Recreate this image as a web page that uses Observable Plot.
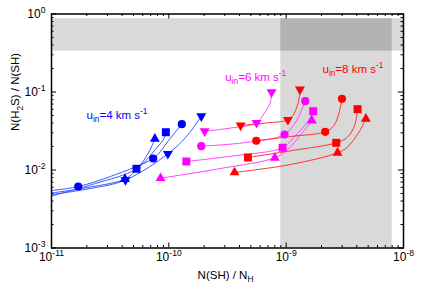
<!DOCTYPE html>
<html>
<head>
<meta charset="utf-8">
<script src="https://cdn.jsdelivr.net/npm/d3@7"></script>
<script src="https://cdn.jsdelivr.net/npm/@observablehq/plot@0.6"></script>
<style>
  html, body { margin: 0; padding: 0; background: white; }
</style>
</head>
<body>
<script>
// ---- axis ticks ----
const xTicks = [1e-11, 1e-10, 1e-9, 1e-8];
const xTickLabels = ["10^{-11}", "10^{-10}", "10^{-9}", "10^{-8}"];
const yTicks = [1e-3, 1e-2, 1e-1, 1];
const yTickLabels = ["10^{-3}", "10^{-2}", "10^{-1}", "10^{0}"];
const xTitle = "N(SH) / N_{H}";
const yTitle = "N(H_{2}S) / N(SH)";

// ---- shaded regions ----
const hBand = [{x1: 1e-11, x2: 1e-8, y1: 0.334, y2: 0.868}];
const vBand = [{x1: 9e-10, x2: 8e-9, y1: 1e-3, y2: 0.868}];
const overlapBand = [{x1: 9e-10, x2: 8e-9, y1: 0.334, y2: 0.868}];

// ---- trajectories [N(SH)/NH, N(H2S)/N(SH)] ----
// u_in = 4 km/s (blue)
const blueCircle = [[1e-11,5.46e-3],[1.69e-11,6.14e-3],[3.18e-11,8.26e-3],[7.36e-11,1.404e-2],[8.50e-11,1.73e-2],[9.94e-11,2.39e-2],[1.29e-10,3.87e-2]];
const blueDown   = [[1e-11,4.85e-3],[2.15e-11,5.79e-3],[4.27e-11,7.44e-3],[9.81e-11,1.61e-2],[1.39e-10,2.61e-2],[1.89e-10,4.89e-2]];
const blueUp     = [[1e-11,5.07e-3],[2.15e-11,6.05e-3],[4.23e-11,7.66e-3],[5.36e-11,1.03e-2],[6.75e-11,1.69e-2],[7.60e-11,2.51e-2]];
const blueSquare = [[1e-11,4.64e-3],[2.37e-11,6.71e-3],[5.30e-11,1.036e-2],[7.96e-11,1.96e-2],[9.01e-11,2.46e-2],[9.43e-11,3.05e-2]];
// u_in = 6 km/s (magenta)
const magDown   = [[2.02e-10,3.14e-2],[3.36e-10,3.45e-2],[5.59e-10,4.03e-2],[6.45e-10,5.25e-2],[7.26e-10,7.06e-2],[7.51e-10,9.94e-2]];
const magCircle = [[1.89e-10,2.02e-2],[4.51e-10,2.25e-2],[9.69e-10,2.85e-2],[1.20e-9,4.10e-2],[1.33e-9,5.51e-2],[1.455e-9,7.62e-2]];
const magSquare = [[1.41e-10,1.285e-2],[3.70e-10,1.53e-2],[9.32e-10,1.93e-2],[1.163e-9,2.63e-2],[1.51e-9,4.10e-2],[1.70e-9,5.67e-2]];
const magUp     = [[8.50e-11,7.85e-3],[2.76e-10,1.045e-2],[8.01e-10,1.433e-2],[1.008e-9,1.78e-2],[1.49e-9,3.51e-2],[1.656e-9,4.31e-2]];
// u_in = 8 km/s (red)
const redDown   = [[4.09e-10,3.72e-2],[6.67e-10,4.00e-2],[1.034e-9,4.40e-2],[1.163e-9,5.25e-2],[1.28e-9,7.78e-2],[1.31e-9,0.1077]];
const redCircle = [[5.56e-10,2.37e-2],[1.09e-9,2.69e-2],[2.15e-9,3.09e-2],[2.55e-9,3.72e-2],[2.81e-9,5.25e-2],[2.99e-9,8.18e-2]];
const redSquare = [[4.72e-10,1.446e-2],[1.134e-9,1.78e-2],[2.67e-9,2.23e-2],[3.32e-9,2.63e-2],[3.83e-9,3.72e-2],[4.06e-9,6.02e-2]];
const redUp     = [[3.63e-10,9.29e-3],[1.09e-9,1.176e-2],[2.74e-9,1.66e-2],[3.32e-9,1.96e-2],[4.17e-9,3.05e-2],[4.78e-9,4.53e-2]];

// ---- markers [symbol, x, y] ----
const blueMarkers = [
  ["circle",1.69e-11,6.14e-3],["circle",7.36e-11,1.404e-2],["circle",1.29e-10,3.87e-2],
  ["down",4.27e-11,7.44e-3],["down",9.81e-11,1.61e-2],["down",1.89e-10,4.89e-2],
  ["up",4.23e-11,7.66e-3],["up",7.60e-11,2.51e-2],
  ["square",5.30e-11,1.036e-2],["square",9.43e-11,3.05e-2]
];
const magMarkers = [
  ["down",2.02e-10,3.14e-2],["down",5.59e-10,4.03e-2],["down",7.51e-10,9.94e-2],
  ["circle",1.89e-10,2.02e-2],["circle",9.69e-10,2.85e-2],["circle",1.455e-9,7.62e-2],
  ["square",1.41e-10,1.285e-2],["square",9.32e-10,1.93e-2],["square",1.70e-9,5.67e-2],
  ["up",8.50e-11,7.85e-3],["up",8.01e-10,1.433e-2],["up",1.656e-9,4.31e-2]
];
const redMarkers = [
  ["down",4.09e-10,3.72e-2],["down",1.034e-9,4.40e-2],["down",1.31e-9,0.1077],
  ["circle",5.56e-10,2.37e-2],["circle",2.15e-9,3.09e-2],["circle",2.99e-9,8.18e-2],
  ["square",4.72e-10,1.446e-2],["square",2.67e-9,2.23e-2],["square",4.06e-9,6.02e-2],
  ["up",3.63e-10,9.29e-3],["up",2.74e-9,1.66e-2],["up",4.78e-9,4.53e-2]
];

// ---- annotations ----
const annotText = ["u_{in}=4 km s^{-1}", "u_{in}=6 km s^{-1}", "u_{in}=8 km s^{-1}"];
const annotX = [1.99e-11, 3.03e-10, 2.04e-9];
const annotY = [5.07e-2, 0.156, 0.197];

// ---- styling ----
const markerColors = {blue: "#0000ff", mag: "#ff00ff", red: "#ff0000"};
const lineColors = {blue: "#3a58ff", mag: "#ff45ff", red: "#ff3434"};
const annotColors = ["#0000ff", "#ff00ff", "#ff0000"];

const W = 425, H = 298, mL = 51, mR = 22, mT = 13.5, mB = 50.5;
const innerW = W - mL - mR, innerH = H - mT - mB;

const downTri = {
  draw(ctx, size) {
    const y = Math.sqrt(size / (Math.sqrt(3) * 3));
    ctx.moveTo(0, 2 * y);
    ctx.lineTo(-Math.sqrt(3) * y, -y);
    ctx.lineTo(Math.sqrt(3) * y, -y);
    ctx.closePath();
  }
};

// minor ticks
const xMinor = [], yMinor = [];
for (let e = -11; e < -8; e++) for (let k = 2; k <= 9; k++) xMinor.push(k * Math.pow(10, e));
for (let e = -3; e < 0; e++) for (let k = 2; k <= 9; k++) yMinor.push(k * Math.pow(10, e));

const groups = [
  {key: "blue", lines: [blueCircle, blueDown, blueUp, blueSquare], markers: blueMarkers},
  {key: "mag", lines: [magDown, magCircle, magSquare, magUp], markers: magMarkers},
  {key: "red", lines: [redDown, redCircle, redSquare, redUp], markers: redMarkers}
];

const lineMarks = [];
for (const g of groups) for (const ln of g.lines) {
  lineMarks.push(Plot.line(ln, {x: d => d[0], y: d => d[1], stroke: lineColors[g.key], strokeWidth: 1, curve: "catmull-rom"}));
}
const allMarkers = groups.flatMap(g => g.markers.map(m => ({sym: m[0], x: m[1], y: m[2], fill: markerColors[g.key]})));
const symSpec = {circle: ["circle", 4.1], square: ["square", 4.5], up: ["triangle", 3.7], down: [downTri, 3.7]};
const dotMarks = Object.entries(symSpec).map(([k, [sym, r]]) =>
  Plot.dot(allMarkers.filter(d => d.sym === k), {x: "x", y: "y", fill: "fill", symbol: sym, r, stroke: "none"}));

const tickLen = 5, minorLen = 2.5;

const chart = Plot.plot({
  width: W, height: H,
  marginLeft: mL, marginRight: mR, marginTop: mT, marginBottom: mB,
  style: {fontFamily: "'Liberation Sans', Arial, Helvetica, sans-serif", background: "white", overflow: "visible"},
  x: {type: "log", domain: [1e-11, 1e-8], axis: null},
  y: {type: "log", domain: [1e-3, 1], axis: null},
  marks: [
    Plot.rect(hBand, {x1: "x1", x2: "x2", y1: "y1", y2: "y2", fill: "#d9d9d9"}),
    Plot.rect(vBand, {x1: "x1", x2: "x2", y1: "y1", y2: "y2", fill: "#d9d9d9"}),
    Plot.rect(overlapBand, {x1: "x1", x2: "x2", y1: "y1", y2: "y2", fill: "#b3b3b3"}),
    ...lineMarks,
    ...dotMarks,
    // ticks (inward, mirrored)
    Plot.ruleX(xTicks, {x: d => d, insetTop: innerH - tickLen, stroke: "black"}),
    Plot.ruleX(xTicks, {x: d => d, insetBottom: innerH - tickLen, stroke: "black"}),
    Plot.ruleX(xMinor, {x: d => d, insetTop: innerH - minorLen, stroke: "black"}),
    Plot.ruleX(xMinor, {x: d => d, insetBottom: innerH - minorLen, stroke: "black"}),
    Plot.ruleY(yTicks, {y: d => d, insetRight: innerW - tickLen, stroke: "black"}),
    Plot.ruleY(yTicks, {y: d => d, insetLeft: innerW - tickLen, stroke: "black"}),
    Plot.ruleY(yMinor, {y: d => d, insetRight: innerW - minorLen, stroke: "black"}),
    Plot.ruleY(yMinor, {y: d => d, insetLeft: innerW - minorLen, stroke: "black"}),
    Plot.frame({stroke: "black", strokeWidth: 1.5}),
    // tick labels
    Plot.text(xTicks, {x: d => d, frameAnchor: "bottom", dy: 13, text: (d, i) => xTickLabels[i], fontSize: 12, fill: "black"}),
    Plot.text(yTicks, {y: d => d, frameAnchor: "left", dx: -6, textAnchor: "end", text: (d, i) => yTickLabels[i], fontSize: 12, fill: "black"}),
    // axis titles
    Plot.text([xTitle], {frameAnchor: "bottom", dx: -2, dy: 31, text: d => d, fontSize: 11.5, fill: "black"}),
    Plot.text([yTitle], {frameAnchor: "left", dx: -36, rotate: -90, text: d => d, fontSize: 11.5, fill: "black"}),
    // annotations
    Plot.text(annotText, {x: (d, i) => annotX[i], y: (d, i) => annotY[i], text: d => d, textAnchor: "start", fontSize: 11.5, fill: (d, i) => annotColors[i]})
  ]
});

function richify(root) {
  const NS = "http://www.w3.org/2000/svg";
  root.querySelectorAll("text").forEach(t => {
    const s = t.textContent;
    if (!/[\^_]\{/.test(s)) return;
    const parts = [];
    const re = /([\^_])\{([^}]*)\}/g;
    let last = 0, m;
    while ((m = re.exec(s))) {
      if (m.index > last) parts.push({t: s.slice(last, m.index), k: 0});
      parts.push({t: m[2], k: m[1] === "^" ? -1 : 1});
      last = re.lastIndex;
    }
    if (last < s.length) parts.push({t: s.slice(last), k: 0});
    while (t.firstChild) t.removeChild(t.firstChild);
    let cur = 0;
    const sc = 0.72;
    for (const p of parts) {
      const target = p.k === -1 ? -0.42 : p.k === 1 ? 0.3 : 0;
      const ts = document.createElementNS(NS, "tspan");
      const f = p.k ? sc : 1;
      if (p.k) ts.setAttribute("font-size", sc + "em");
      const d = target - cur;
      if (d) ts.setAttribute("dy", (d / f).toFixed(3) + "em");
      ts.textContent = p.t;
      t.appendChild(ts);
      cur = target;
    }
  });
}
richify(chart);
document.body.appendChild(chart);
</script>
</body>
</html>
